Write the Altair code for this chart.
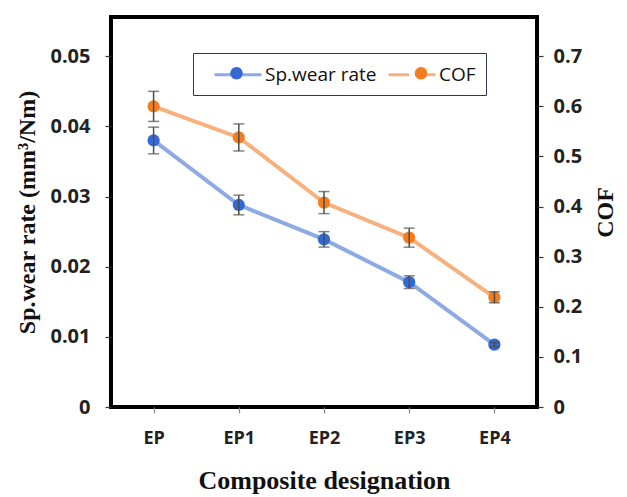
import altair as alt
import pandas as pd

categories = ["EP", "EP1", "EP2", "EP3", "EP4"]
wear_rate = [0.0380, 0.0288, 0.0239, 0.0178, 0.0089]
wear_err = [0.0019, 0.0014, 0.0011, 0.0009, 0.0003]
cof = [0.600, 0.538, 0.408, 0.338, 0.219]
cof_err = [0.030, 0.027, 0.022, 0.019, 0.011]
series_names = ["Sp.wear rate", "COF"]
left_ticks = [0, 0.01, 0.02, 0.03, 0.04, 0.05]
right_ticks = [0, 0.1, 0.2, 0.3, 0.4, 0.5, 0.6, 0.7]

line_colors = ["#8EAAE3", "#F8B07D"]
dot_colors = ["#3468D6", "#F47D22"]
dot_names = [s + " " for s in series_names]

wear_df = pd.DataFrame({"cat": categories, "val": wear_rate, "err": wear_err,
                        "series": series_names[0], "series_dot": dot_names[0]})
cof_df = pd.DataFrame({"cat": categories, "val": cof, "err": cof_err,
                       "series": series_names[1], "series_dot": dot_names[1]})

W, H = 426, 390
LEFT_MAX = 0.0556
RIGHT_MAX = 0.7784

SANS = "Open Sans"
SERIF = "Liberation Serif"

x_enc = alt.X("cat:N", sort=categories, scale=alt.Scale(type="point", padding=0.5),
              axis=alt.Axis(title="Composite designation", labelAngle=0, domain=False,
                            tickColor="#8a8a8a", tickSize=6, tickWidth=1.2,
                            labelFont=SANS, labelFontWeight="bold", labelFontSize=18,
                            labelColor="#222", labelPadding=16,
                            titleFont=SERIF, titleFontWeight="bold", titleFontSize=26,
                            titleColor="#111", titlePadding=20))

# legend symbols: a light line (colour legend) and a dark dot (fill legend) on top
line_path = "M-3.35,0M-2.35,0H-0.3M0.3,0H2.35"
dot_path = "M-3.35,0M2.35,0M0.62,0A0.62,0.62 0 1,1 -0.62,0A0.62,0.62 0 1,1 0.62,0Z"

color_scale = alt.Scale(domain=series_names, range=line_colors)
fill_scale = alt.Scale(domain=dot_names, range=dot_colors)

legend_common = dict(orient="none", legendX=82, legendY=36, direction="horizontal",
                     title=None, symbolSize=400, symbolOffset=23.5, labelOffset=15.5,
                     labelFont=SANS, labelColor="#111", padding=10, labelLimit=300)

color_legend = alt.Legend(symbolType=line_path, symbolStrokeWidth=3,
                          strokeColor="#2E3A55", cornerRadius=0, labelFontSize=19,
                          columnPadding=-12, **legend_common)
spaces = " " * 22
fill_legend = alt.Legend(symbolType=dot_path, symbolStrokeWidth=0, labelFontSize=19.49,
                         labelExpr=f"datum.value == '{dot_names[0]}' ? '{spaces}' : ''",
                         columnPadding=125.5, **legend_common)


def group(df, ymax, ticks, orient, title, fmt):
    yscale = alt.Scale(domain=[0, ymax], nice=False, zero=True)
    left_side = orient == "left"
    axis_kw = dict(orient=orient, values=ticks, title=title, grid=False, domain=False,
                   labelExpr=f"datum.value == 0 ? '0' : format(datum.value, '{fmt}')",
                   tickColor="#333", tickSize=6, tickWidth=1.2,
                   labelFont=SANS, labelFontWeight="bold", labelFontSize=20,
                   labelColor="#222", labelPadding=15 if left_side else 10,
                   titleFont=SERIF, titleFontWeight="bold", titleFontSize=24,
                   titleColor="#111", titleAngle=270,
                   titlePadding=10 if left_side else 12)
    if not left_side:
        axis_kw["titleBaseline"] = "top"
    axis = alt.Axis(**axis_kw)
    base = alt.Chart(df).encode(x=x_enc)
    line = base.mark_line(strokeWidth=4).encode(
        y=alt.Y("val:Q", scale=yscale, axis=axis, title=title),
        color=alt.Color("series:N", scale=color_scale, legend=color_legend))
    bars = base.transform_calculate(
        lo="datum.val - datum.err", hi="datum.val + datum.err"
    ).mark_rule(color="#4d4d4d", strokeWidth=1.5).encode(
        y=alt.Y("lo:Q", scale=yscale, axis=axis, title=title), y2="hi:Q")
    caps = base.transform_calculate(
        lo="datum.val - datum.err", hi="datum.val + datum.err"
    ).transform_fold(["lo", "hi"], as_=["end", "pos"]).mark_tick(
        color="#4d4d4d", thickness=1.5, size=11).encode(
        y=alt.Y("pos:Q", scale=yscale, axis=axis, title=title))
    dots = base.mark_circle(size=150, opacity=1).encode(
        y=alt.Y("val:Q", scale=yscale, axis=axis, title=title),
        fill=alt.Fill("series_dot:N", scale=fill_scale, legend=fill_legend))
    return alt.layer(line, dots, bars, caps)


left = group(wear_df, LEFT_MAX, left_ticks, "left", "Sp.wear rate (mm³/Nm)", ".2f")
right = group(cof_df, RIGHT_MAX, right_ticks, "right", "COF", ".1f")

chart = alt.layer(left, right).resolve_scale(y="independent").properties(
    width=W, height=H,
    autosize=alt.AutoSizeParams(type="none"),
    padding={"left": 111, "top": 17, "right": 90, "bottom": 90},
    background="white",
).configure_view(stroke="black", strokeWidth=4)

chart.save("out.html", embed_options={"renderer": "svg", "actions": False})
